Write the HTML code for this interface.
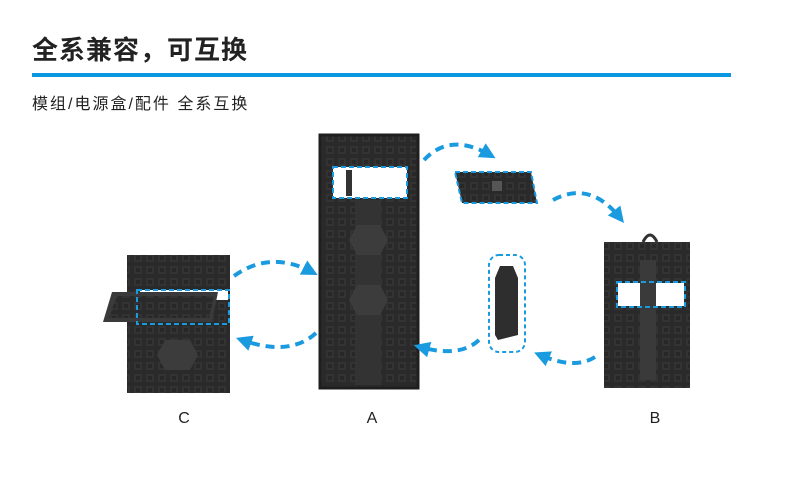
<!DOCTYPE html>
<html><head><meta charset="utf-8"><style>
body{margin:0;background:#fff;width:800px;height:500px;overflow:hidden;font-family:"Liberation Sans","Noto Sans CJK SC",sans-serif;}
</style></head><body>
<svg width="800" height="500" xmlns="http://www.w3.org/2000/svg" style="position:absolute;left:0;top:0">
<defs>
<pattern id="g" width="12" height="12" patternUnits="userSpaceOnUse"><rect width="12" height="12" fill="#2a2a2a"/><rect x="2" y="2" width="8" height="8" fill="#333"/><rect x="4" y="4" width="4" height="4" fill="#282828"/></pattern>
<marker id="ah" viewBox="0 0 10 10" refX="6" refY="5" markerWidth="4" markerHeight="4" orient="auto"><path d="M0,0 L10,5 L0,10 z" fill="#1a9be0"/></marker>
</defs>
<text x="32" y="59" font-size="26" font-weight="bold" letter-spacing="1" fill="#222" font-family="Liberation Sans, Noto Sans CJK SC, sans-serif">全系兼容，可互换</text>
<rect x="32" y="73" width="699" height="4" fill="#0a98e0"/>
<text x="32" y="109" font-size="16" letter-spacing="2" fill="#222" font-family="Liberation Sans, Noto Sans CJK SC, sans-serif">模组/电源盒/配件 全系互换</text>

<!-- Cabinet A -->
<rect x="320" y="135" width="98" height="253" fill="url(#g)"/>
<rect x="320" y="135" width="98" height="253" fill="none" stroke="#1e1e1e" stroke-width="3"/>
<rect x="333" y="167" width="74" height="31" fill="#fff"/>
<rect x="346" y="170" width="6" height="26" fill="#333"/>
<rect x="355" y="200" width="26" height="185" fill="#333"/>
<polygon points="357,225 380,225 388,240 380,255 357,255 349,240" fill="#3c3c3c"/>
<polygon points="357,285 380,285 388,300 380,315 357,315 349,300" fill="#3c3c3c"/>
<rect x="333" y="167" width="74" height="31" fill="none" stroke="#1a9be0" stroke-width="2" stroke-dasharray="5 3"/>

<!-- Cabinet C -->
<rect x="127" y="255" width="103" height="138" fill="url(#g)"/>
<rect x="140" y="290" width="88" height="10" fill="#fff"/>
<polygon points="112,292 218,292 212,322 103,322" fill="#3a3a3a"/>
<polygon points="117,296 214,296 209,318 109,318" fill="url(#g)"/>
<rect x="137" y="290" width="92" height="34" fill="none" stroke="#1a9be0" stroke-width="2" stroke-dasharray="5 3"/>
<polygon points="165,340 190,340 198,355 190,370 165,370 157,355" fill="#3c3c3c"/>

<!-- Cabinet B -->
<rect x="604" y="242" width="86" height="146" fill="url(#g)"/>
<rect x="618" y="283" width="66" height="23" fill="#fff"/>
<rect x="640" y="260" width="16" height="120" fill="#3a3a3a"/>
<path d="M643,242 q7,-14 14,0" fill="none" stroke="#333" stroke-width="3"/>
<rect x="617" y="282" width="68" height="25" fill="none" stroke="#1a9be0" stroke-width="2" stroke-dasharray="5 3"/>

<!-- floating module -->
<polygon points="455,172 531,172 537,203 462,203" fill="url(#g)" stroke="#1a9be0" stroke-width="2" stroke-dasharray="5 3"/>
<rect x="492" y="181" width="10" height="10" fill="#555"/>

<!-- power box -->
<rect x="489" y="255" width="36" height="97" rx="10" fill="none" stroke="#1a9be0" stroke-width="2" stroke-dasharray="4 3"/>
<polygon points="500,266 513,266 518,278 518,335 498,340 495,335 495,278" fill="#2e2e2e"/>

<!-- arrows -->
<g fill="none" stroke="#1a9be0" stroke-width="4" stroke-dasharray="9 6" marker-end="url(#ah)">
<path d="M424,160 Q450,132 490,155"/>
<path d="M553,200 Q590,180 620,218"/>
<path d="M234,276 Q270,250 312,272"/>
<path d="M316,333 Q290,357 242,340"/>
<path d="M479,340 Q460,358 420,347"/>
<path d="M595,357 Q575,370 540,355"/>
</g>

<g font-size="16" fill="#222" font-family="Liberation Sans, sans-serif" text-anchor="middle">
<text x="184" y="423">C</text>
<text x="372" y="423">A</text>
<text x="655" y="423">B</text>
</g>
</svg>
</body></html>
